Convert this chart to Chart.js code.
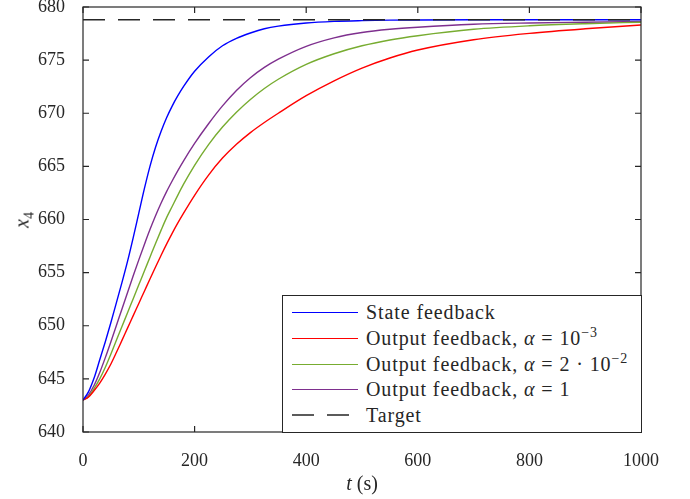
<!DOCTYPE html>
<html>
<head>
<meta charset="utf-8">
<script src="https://cdn.jsdelivr.net/npm/chart.js@4"></script>
<style>
  body { margin: 0; background: #fff; }
  #wrap { position: relative; width: 690px; height: 499px; font-family: "Liberation Serif", "Times New Roman", "DejaVu Serif", "Noto Serif", serif; color: #262626; }
  #chart { position: absolute; left: 0; top: 0; }
  .lbl { position: absolute; font-size: 20px; white-space: nowrap; }
  #ylab { left: 22px; top: 220px; transform: translate(-50%, -50%) rotate(-90deg); }
  #xlab { left: 362px; top: 483px; transform: translate(-50%, -50%); }
  #legend { position: absolute; left: 282px; top: 295px; width: 358px; height: 136px; border: 1px solid #262626; background: #fff; }
  .row { position: absolute; left: 0; height: 24px; display: flex; align-items: center; font-size: 20px; letter-spacing: 0.9px; white-space: nowrap; }
  .swatch { width: 66px; height: 0; margin-left: 9px; margin-right: 8px; border-top: 1.4px solid; }
  sup { font-size: 14px; vertical-align: 8px; line-height: 0; }
  sub { font-size: 14px; vertical-align: -5px; line-height: 0; }
</style>
</head>
<body>
<div id="wrap">
  <canvas id="chart" width="690" height="499"></canvas>
  <div class="lbl" id="ylab"><i>x</i><sub>4</sub></div>
  <div class="lbl" id="xlab"><i>t</i> (s)</div>
  <div id="legend">
    <div class="row" style="top:4px"><span class="swatch" style="border-color:#0000ff"></span><span>State feedback</span></div>
    <div class="row" style="top:30px"><span class="swatch" style="border-color:#ff0000"></span><span>Output feedback, <i>α</i> = 10<sup>−3</sup></span></div>
    <div class="row" style="top:56px"><span class="swatch" style="border-color:#77ac30"></span><span>Output feedback, <i>α</i> = 2 · 10<sup>−2</sup></span></div>
    <div class="row" style="top:81px"><span class="swatch" style="border-color:#7e2f8e"></span><span>Output feedback, <i>α</i> = 1</span></div>
    <div class="row" style="top:107px"><svg width="66" height="4" style="margin-left:9px;margin-right:8px"><line x1="0" y1="2" x2="66" y2="2" stroke="#262626" stroke-width="1.4" stroke-dasharray="22,13"/></svg><span>Target</span></div>
  </div>
</div>
<script>
const FONT = "'Liberation Serif', 'Times New Roman', 'DejaVu Serif', 'Noto Serif', serif";
const times   = [0, 10, 20, 30, 40, 50, 60, 70, 80, 90, 100, 110, 120, 130, 140, 150, 160, 170, 180, 200, 225, 250, 275, 300, 325, 350, 400, 450, 500, 550, 600, 700, 800, 900, 1000];
const stateFb = [643.0, 643.8, 645.1, 646.8, 648.5, 650.3, 652.2, 654.1, 656.1, 658.3, 660.6, 662.9, 665.0, 666.8, 668.3, 669.6, 670.7, 671.65, 672.5, 673.95, 675.3, 676.35, 677.05, 677.55, 677.95, 678.2, 678.5, 678.65, 678.72, 678.76, 678.78, 678.8, 678.8, 678.8, 678.8];
const outFb3  = [643.0, 643.3, 643.9, 644.6, 645.45, 646.4, 647.5, 648.65, 649.8, 650.95, 652.1, 653.25, 654.4, 655.53, 656.63, 657.7, 658.72, 659.68, 660.58, 662.28, 664.18, 665.78, 667.08, 668.18, 669.13, 670.0, 671.65, 673.05, 674.25, 675.2, 675.95, 676.92, 677.52, 677.95, 678.3];
const outFb2  = [643.0, 643.35, 644.1, 645.0, 646.1, 647.35, 648.65, 649.95, 651.25, 652.55, 653.85, 655.15, 656.45, 657.75, 659.0, 660.2, 661.25, 662.3, 663.3, 665.1, 667.05, 668.7, 670.1, 671.3, 672.33, 673.2, 674.6, 675.6, 676.35, 676.9, 677.3, 677.9, 678.23, 678.43, 678.57];
const outFb1  = [643.0, 643.5, 644.4, 645.6, 647.0, 648.5, 650.05, 651.6, 653.15, 654.7, 656.2, 657.65, 659.05, 660.35, 661.55, 662.65, 663.65, 664.6, 665.5, 667.16, 669.01, 670.69, 672.14, 673.34, 674.31, 675.09, 676.3, 677.1, 677.6, 677.9, 678.1, 678.38, 678.5, 678.57, 678.63];
const target = 678.8;
const xTicks = [0, 200, 400, 600, 800, 1000];
const yTicks = [640, 645, 650, 655, 660, 665, 670, 675, 680];

const AXIS = "#262626";
const toPts = ys => times.map((t, i) => ({ x: t, y: ys[i] }));

function line(data, color) {
    return { data, borderColor: color, borderWidth: 1.4, pointRadius: 0, fill: false, cubicInterpolationMode: "monotone", order: 2 };
}

// box + inward ticks on all four sides
const boxPlugin = {
    id: "box",
    afterDatasetsDraw(chart) {
        const { ctx, chartArea: a, scales } = chart;
        ctx.save();
        ctx.strokeStyle = AXIS;
        ctx.lineWidth = 1.2;
        ctx.strokeRect(a.left, a.top, a.right - a.left, a.bottom - a.top);
        ctx.beginPath();
        xTicks.forEach(v => {
            const px = scales.x.getPixelForValue(v);
            ctx.moveTo(px, a.bottom); ctx.lineTo(px, a.bottom - 6);
            ctx.moveTo(px, a.top); ctx.lineTo(px, a.top + 6);
        });
        yTicks.forEach(v => {
            const py = scales.y.getPixelForValue(v);
            ctx.moveTo(a.left, py); ctx.lineTo(a.left + 6, py);
            ctx.moveTo(a.right, py); ctx.lineTo(a.right - 6, py);
        });
        ctx.stroke();
        ctx.restore();
    }
};

function noPad(s) {
    s.paddingTop = 0; s.paddingBottom = 0; s.paddingLeft = 0; s.paddingRight = 0;
}

new Chart(document.getElementById("chart"), {
    type: "line",
    data: {
        datasets: [
            line(toPts(stateFb), "#0000ff"),
            line(toPts(outFb3), "#ff0000"),
            line(toPts(outFb2), "#77ac30"),
            line(toPts(outFb1), "#7e2f8e"),
            { data: [{ x: 0, y: target }, { x: 1000, y: target }], borderColor: "#262626", borderWidth: 1.4, borderDash: [22, 13], pointRadius: 0, order: 0 }
        ]
    },
    options: {
        responsive: false,
        animation: false,
        layout: { padding: { top: 7, right: 49, left: 0, bottom: 0 } },
        plugins: { legend: { display: false }, tooltip: { enabled: false } },
        scales: {
            x: {
                type: "linear", min: 0, max: 1000,
                afterBuildTicks: s => { s.ticks = xTicks.map(v => ({ value: v })); },
                afterFit: s => { s.height = 67; noPad(s); },
                grid: { display: false }, border: { display: false },
                ticks: { color: AXIS, padding: 10, maxRotation: 0, callback: v => String(v), font: { family: FONT, size: 18 } }
            },
            y: {
                min: 640, max: 680,
                afterBuildTicks: s => { s.ticks = yTicks.map(v => ({ value: v })); },
                afterFit: s => { s.width = 83; noPad(s); },
                grid: { display: false }, border: { display: false },
                ticks: { color: AXIS, padding: 10, callback: v => String(v), font: { family: FONT, size: 18 } }
            }
        }
    },
    plugins: [boxPlugin]
});
</script>
</body>
</html>
